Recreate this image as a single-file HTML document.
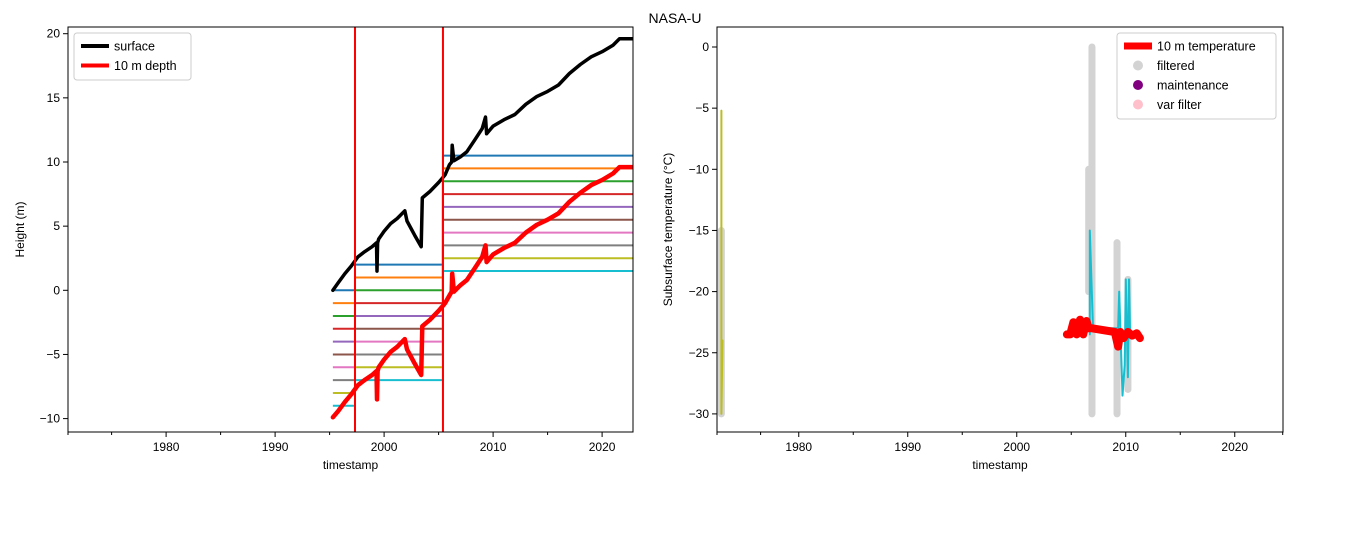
<!DOCTYPE html>
<html><head><meta charset="utf-8"><style>
body{margin:0;background:#fff;width:1350px;height:540px;overflow:hidden}
svg{font-family:"Liberation Sans","DejaVu Sans",sans-serif}
</style></head><body>
<svg id="c" width="1350" height="540" xmlns="http://www.w3.org/2000/svg">
<text x="675" y="23" text-anchor="middle" font-size="14">NASA-U</text>
</svg>
<script>
// ---- data ----
const surfYears=[1995.3,1995.8,1996.4,1997.0,1997.6,1998.2,1998.9,1999.3,1999.35,1999.4,1999.5,2000.0,2000.6,2001.2,2001.9,2002.1,2002.8,2003.4,2003.5,2004.2,2005.0,2005.4,2005.6,2006.0,2006.2,2006.25,2006.4,2007.0,2007.6,2008.3,2009.0,2009.3,2009.4,2010.0,2011.0,2012.0,2013.0,2014.0,2015.0,2016.0,2017.0,2018.0,2019.0,2020.0,2021.0,2021.6,2022.8];
const surfHeight=[0.0,0.6,1.3,1.9,2.6,3.0,3.4,3.7,1.5,3.7,4.0,4.6,5.2,5.6,6.2,5.4,4.3,3.4,7.2,7.7,8.4,8.8,9.0,9.8,10.0,11.3,10.1,10.4,10.8,11.7,12.6,13.5,12.2,12.8,13.3,13.7,14.5,15.1,15.5,16.0,16.9,17.6,18.2,18.6,19.1,19.6,19.6];
const depthYears=[1995.3,1995.8,1996.4,1997.0,1997.6,1998.2,1998.9,1999.3,1999.35,1999.4,1999.5,2000.0,2000.6,2001.2,2001.9,2002.1,2002.8,2003.4,2003.5,2004.2,2005.0,2005.4,2005.6,2006.0,2006.2,2006.25,2006.4,2007.0,2007.6,2008.3,2009.0,2009.3,2009.4,2010.0,2011.0,2012.0,2013.0,2014.0,2015.0,2016.0,2017.0,2018.0,2019.0,2020.0,2021.0,2021.6,2022.8];
const depthHeight=[-9.9,-9.4,-8.7,-8.1,-7.4,-7.0,-6.6,-6.3,-8.5,-6.3,-6.0,-5.4,-4.8,-4.4,-3.8,-4.6,-5.7,-6.6,-2.8,-2.3,-1.6,-1.2,-1.0,-0.4,-0.1,1.3,-0.1,0.4,0.8,1.7,2.6,3.5,2.2,2.8,3.3,3.7,4.5,5.1,5.5,6.0,6.9,7.6,8.2,8.6,9.1,9.6,9.6];
const installYears=[1995.3,1997.33,2005.4];
const periodEnd=2022.8;
const sensorTop=[0,2,10.5];
const markerYears=[1997.33,2005.4];
// right panel
const olivePts=[[1972.9,-5.2],[1972.9,-30],[1973.0,-24]];
const grayCols=[[1972.9,-15,-30],[2006.9,0,-30],[2006.6,-10,-20],[2009.2,-16,-30],[2010.2,-19,-28]];
const cyanYears=[2006.7,2006.7,2007.0,2009.3,2009.4,2009.7,2009.9,2010.0,2010.2,2010.3,2010.4];
const cyanTemps=[-23.5,-15,-23,-23,-20,-28.5,-26,-19,-27,-19,-23.5];
const redYears=[2004.6,2004.9,2005.2,2005.5,2005.8,2006.1,2006.4,2006.6,2006.9,2009.0,2009.3,2009.5,2009.8,2010.2,2010.6,2011.0,2011.3];
const redTemps=[-23.5,-23.5,-22.5,-23.5,-22.3,-23.5,-22.4,-23.0,-23.0,-23.3,-24.5,-23.3,-23.8,-23.3,-23.6,-23.4,-23.8];
const tab=['#1f77b4','#ff7f0e','#2ca02c','#d62728','#9467bd','#8c564b','#e377c2','#7f7f7f','#bcbd22','#17becf'];
const NS="http://www.w3.org/2000/svg";
const svg=document.getElementById('c');
function mk(t,a,p){const e=document.createElementNS(NS,t);for(const k in a)e.setAttribute(k,a[k]);(p||svg).appendChild(e);return e;}
const Lx=y=>68+(y-1971.0)*10.9, Ly=v=>290.3-v*12.83;
const Rx=y=>717+(y-1972.5)*10.9, Ry=t=>47-t*12.23;
const defs=mk('defs',{});
const cp1=mk('clipPath',{id:'cl'},defs);mk('rect',{x:68,y:27,width:565,height:405},cp1);
const cp2=mk('clipPath',{id:'cr'},defs);mk('rect',{x:717,y:27,width:566,height:405},cp2);
const gL=mk('g',{'clip-path':'url(#cl)'});

for(let p=0;p<3;p++){const x0=Lx(installYears[p]),x1=Lx(p<2?installYears[p+1]:periodEnd);
 for(let s=0;s<10;s++){const v=sensorTop[p]-s;let d='M'+x0+','+Ly(v)+'H'+x1;
  if(p<2)d+='V'+Ly(sensorTop[p+1]-s);
  const e=mk('path',{d:d,stroke:tab[s],'stroke-width':2,fill:'none'},gL);
  }}
function pl(xs,ys,fx,fy,col,w,g,name){const d=xs.map((x,i)=>(i?'L':'M')+fx(x).toFixed(1)+','+fy(ys[i]).toFixed(1)).join('');
 const e=mk('path',{d:d,stroke:col,'stroke-width':w,fill:'none','stroke-linejoin':'round','stroke-linecap':'round'},g);
 return e;}
pl(surfYears,surfHeight,Lx,Ly,'#000',3.5,gL,'surface-line');
pl(depthYears,depthHeight,Lx,Ly,'#f00',4.5,gL,'depth-10m-line');
markerYears.forEach(y=>{const e=mk('line',{x1:Lx(y),x2:Lx(y),y1:27,y2:432,stroke:'#f00','stroke-width':2},gL);
 });
const gR=mk('g',{'clip-path':'url(#cr)'});

grayCols.forEach(c=>{const e=mk('line',{x1:Rx(c[0]),x2:Rx(c[0]),y1:Ry(c[1]),y2:Ry(c[2]),stroke:'#d3d3d3','stroke-width':7,'stroke-linecap':'round'},gR);
 });
pl(olivePts.map(p=>p[0]),olivePts.map(p=>p[1]),Rx,Ry,'#bcbd22',2,gR,'olive-series');
pl(cyanYears,cyanTemps,Rx,Ry,'#17becf',2,gR,'cyan-series');
pl(redYears,redTemps,Rx,Ry,'#f00',8,gR,'temp-10m-line');
function axes(x0,x1,y0,y1,fx,fy,xt,yt,ylab,minor,side){
 const r=mk('rect',{x:x0,y:y0,width:x1-x0,height:y1-y0,fill:'none',stroke:'#000','stroke-width':1});
 
 xt.forEach(v=>{const x=fx(v);mk('line',{x1:x,x2:x,y1:y1,y2:y1+5,stroke:'#000'});
  const t=mk('text',{x:x,y:y1+19,'text-anchor':'middle','font-size':12});t.textContent=v;
  });
 minor.forEach(v=>{const x=fx(v);if(x>=x0-1&&x<=x1+1)mk('line',{x1:x,x2:x,y1:y1,y2:y1+3,stroke:'#000'});});
 yt.forEach(v=>{const y=fy(v);mk('line',{x1:x0-5,x2:x0,y1:y,y2:y,stroke:'#000'});
  const t=mk('text',{x:x0-8,y:y+4,'text-anchor':'end','font-size':12});t.textContent=v<0?'\u2212'+(-v):v;
  });
 const xl=mk('text',{x:(x0+x1)/2,y:y1+37,'text-anchor':'middle','font-size':12});xl.textContent='timestamp';
 
 const yl=mk('text',{x:0,y:0,'text-anchor':'middle','font-size':12,transform:`translate(${side=='left'?24:672},${(y0+y1)/2}) rotate(-90)`});yl.textContent=ylab;
 }
axes(68,633,27,432,Lx,Ly,[1980,1990,2000,2010,2020],[-10,-5,0,5,10,15,20],'Height (m)',[1971,1975,1985,1995,2005,2015],'left');
axes(717,1283,27,432,Rx,Ry,[1980,1990,2000,2010,2020],[0,-5,-10,-15,-20,-25,-30],'Subsurface temperature (°C)',[1972.5,1976.5,1985,1995,2005,2015,2024.4],'right');
function legend(x,y,w,items,side){const g=mk('g',{});
 mk('rect',{x:x,y:y,width:w,height:items.length*19.5+8,rx:3,fill:'#fff',stroke:'#ccc'},g);
 items.forEach((it,i)=>{const cy=y+13+i*19.5;
  if(it[2]=='line')mk('line',{x1:x+7,x2:x+35,y1:cy,y2:cy,stroke:it[1],'stroke-width':it[3]},g);
  else mk('circle',{cx:x+21,cy:cy,r:5,fill:it[1]},g);
  const t=mk('text',{x:x+40,y:cy+4.5,'font-size':12.5},g);t.textContent=it[0];
  });}
legend(74,33,117,[['surface','#000','line',4],['10 m depth','#f00','line',4]],'left');
legend(1117,33,159,[['10 m temperature','#f00','line',7],['filtered','#d3d3d3','dot'],['maintenance','#800080','dot'],['var filter','#ffc0cb','dot']],'right');
</script>
</body></html>
